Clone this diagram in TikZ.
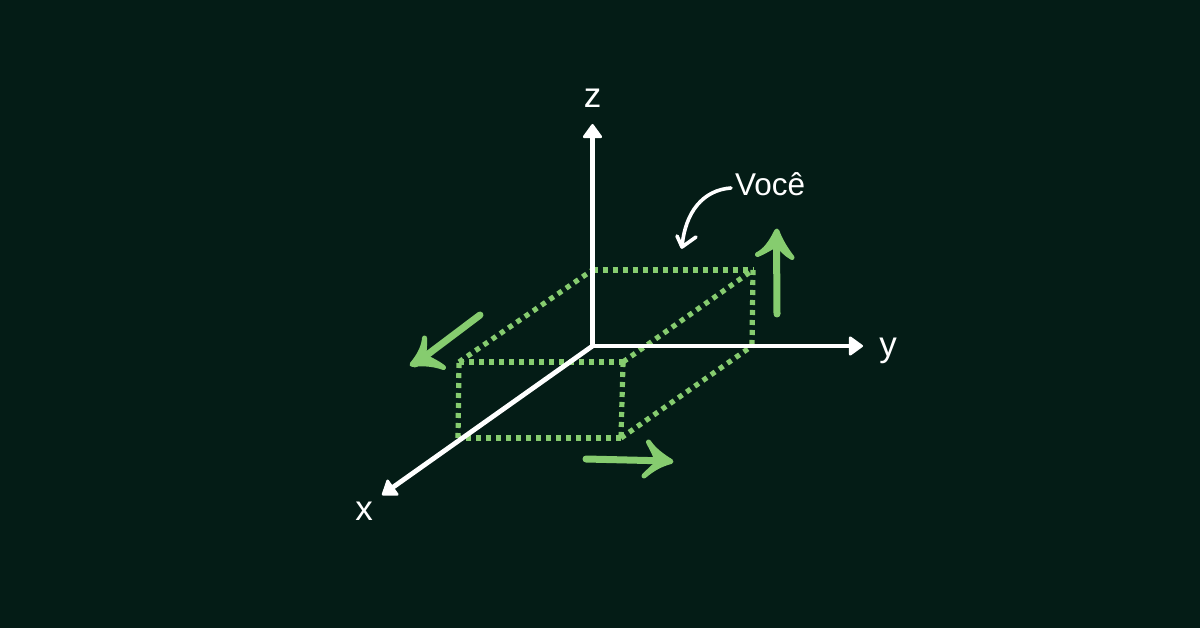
\documentclass[tikz,border=0pt]{standalone}
\usepackage{fontspec}
\setmainfont{Liberation Sans}
\usetikzlibrary{arrows.meta}
\definecolor{bgc}{HTML}{041C16}
\definecolor{grn}{HTML}{86CC6F}
\tikzset{
  axis/.style={white,line width=4.8pt,-{Triangle[round,length=15pt,width=21pt,line width=2.5pt]}},
  dots/.style={grn,line width=5.2pt,dash pattern=on 5pt off 5pt},
  hand/.style={grn,line width=7pt,line cap=round,line join=round},
  handhead/.style={grn,fill=grn,line width=5pt,line cap=round,line join=round},
  lab/.style={white,font=\fontsize{35pt}{36pt}\selectfont,inner sep=0pt},
  you/.style={white,font=\fontsize{31.5pt}{33pt}\selectfont,inner sep=0pt},
}
\begin{document}
\begin{tikzpicture}[x=1pt,y=-1pt]
\useasboundingbox (0,0) rectangle (1200,628);
\fill[bgc] (0,0) rectangle (1200,628);
% coordinates
\coordinate (O) at (592.5,346);
\coordinate (Z) at (592.5,124);
\coordinate (Y) at (863,346);
\coordinate (X) at (382,495);
\coordinate (ftl) at (459,362);
\coordinate (ftr) at (623,362);
\coordinate (fbr) at (621,438);
\coordinate (fbl) at (458,438);
\coordinate (btl) at (592.5,270);
\coordinate (btr) at (753,270);
\coordinate (bbr) at (752,346);
% dotted box
\draw[dots] (ftl) -- (ftr);
\draw[dots] (ftr) -- (fbr);
\draw[dots] (fbr) -- (fbl);
\draw[dots] (fbl) -- (ftl);
\draw[dots] (ftl) -- (btl);
\draw[dots] (btl) -- (btr);
\draw[dots] (btr) -- (bbr);
\draw[dots] (ftr) -- (btr);
\draw[dots] (fbr) -- (bbr);
% axes
\draw[axis] (O) -- (Z);
\draw[axis] (O) -- (Y);
\draw[axis] (O) -- (X);
\fill[white] (590.1,343.6) rectangle (594.9,348.4);
% labels
\node[lab] (zl) at (592.5,98) {z};
\node[lab] (yl) at (888,351) {y};
\node[lab] (xl) at (364,511) {x};
\node[you,anchor=west] (you) at (735,184) {Você};
% pointer
\coordinate (pa) at (731,188);
\coordinate (pb) at (682,247);
\draw[white,line width=3.6pt,line cap=round,line join=round] (pa) .. controls (703,190) and (685,212) .. (pb);
\draw[white,line width=3.6pt,line cap=round,line join=round] (677,236) -- (pb) -- (696,237);
% green arrows
\coordinate (la) at (480,315); \coordinate (lb) at (415,364);
\draw[hand] (la) -- (lb);
\draw[handhead] (424.5,338) .. controls (424,346) and (420,355) .. (412,364.5) .. controls (423,363) and (434,364) .. (443.5,367.5) .. controls (435,361) and (428,359) .. (424,356) .. controls (424,350) and (425,345) .. cycle;
\coordinate (ba) at (586,459); \coordinate (bb) at (668,461);
\draw[hand] (ba) -- (bb);
\draw[handhead] (648.5,442) .. controls (654,450) and (662,456) .. (671,461.5) .. controls (661,464) and (652,469) .. (644,476) .. controls (650,470) and (654,466) .. (658,463) .. controls (656,456) and (652,449) .. cycle;
\coordinate (ua) at (777,314); \coordinate (ub) at (776.5,236);
\draw[hand] (ua) -- (ub);
\draw[handhead] (757.5,254.5) .. controls (765,251) and (771,243) .. (776.8,231) .. controls (780,240) and (786,250) .. (792,257.5) .. controls (786,254) and (781,249) .. (778,244) .. controls (771,247) and (764,252) .. cycle;
\end{tikzpicture}
\end{document}
